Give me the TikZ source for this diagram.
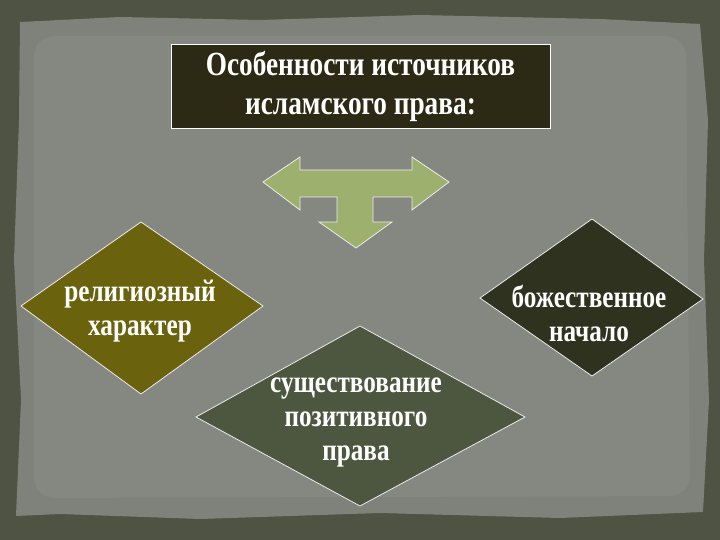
\documentclass[tikz,border=0pt]{standalone}
\usepackage{fontspec}
\setmainfont{Liberation Serif}
\newcommand{\stretched}[1]{\scalebox{1.05}[1.3]{\begin{tabular}{@{}c@{}}#1\end{tabular}}}
\begin{document}
\begin{tikzpicture}[x=1pt,y=-1pt,
 dia/.style={draw=white!85!gray,line width=0.8pt,line join=miter},
 lbl/.style={text=white,font=\bfseries\fontsize{24}{26}\selectfont,align=center,inner sep=0}]
\definecolor{bg}{HTML}{4E5343}
\definecolor{paper}{HTML}{858881}
\definecolor{arr}{HTML}{9DB06E}
\useasboundingbox (0,0) rectangle (720,540);
\fill[bg] (0,0) rectangle (720,540);
\fill[paper!88!bg] (20,22) -- (120,17) -- (260,20) -- (420,15) -- (600,19) -- (700,24) -- (708,120) -- (704,260) -- (709,400) -- (703,512) -- (560,518) -- (380,513) -- (200,519) -- (60,514) -- (16,516) -- (21,400) -- (14,260) -- (19,120) -- cycle;
\fill[paper,rounded corners=20pt] (34,36) -- (686,36) -- (690,496) -- (34,498) -- cycle;
\node[draw=white,fill={rgb,255:red,44;green,42;blue,20},minimum width=379pt,minimum height=84pt,line width=0.8pt,inner sep=0] (title) at (360.5,86) {};
\node[lbl,font=\bfseries\fontsize{26}{30}\selectfont] (tt) at (360.5,87) {\stretched{Особенности источников\\исламского права:}};
\draw[dia,fill=arr] (263,182) -- (300,157) -- (300,170) -- (412,170) -- (412,157) -- (449,182) -- (412,210) -- (412,197) -- (373,197) -- (373,222) -- (392,222) -- (356,248) -- (319,222) -- (337,222) -- (337,197) -- (300,197) -- (300,210) -- cycle;
\coordinate (l1) at (141,222); \coordinate (l2) at (263,306); \coordinate (l3) at (141,394); \coordinate (l4) at (21,306);
\draw[dia,fill={rgb,255:red,107;green,98;blue,14}] (l1) -- (l2) -- (l3) -- (l4) -- cycle;
\node[lbl] (lt) at (140,312) {\stretched{религиозный\\характер}};
\coordinate (r1) at (592,219); \coordinate (r2) at (703,299); \coordinate (r3) at (592,376); \coordinate (r4) at (480,298);
\draw[dia,fill={rgb,255:red,48;green,50;blue,32}] (r1) -- (r2) -- (r3) -- (r4) -- cycle;
\node[lbl] (rt) at (589,318) {\stretched{божественное\\начало}};
\coordinate (c1) at (360,326); \coordinate (c2) at (525,417); \coordinate (c3) at (360,506); \coordinate (c4) at (196,417);
\draw[dia,fill={rgb,255:red,77;green,87;blue,64}] (c1) -- (c2) -- (c3) -- (c4) -- cycle;
\node[lbl] (ct) at (356,420) {\stretched{существование\\позитивного\\права}};
\end{tikzpicture}
\end{document}
